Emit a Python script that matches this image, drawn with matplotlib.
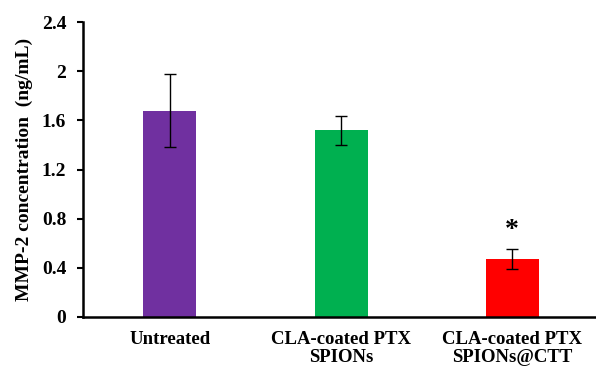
import matplotlib
matplotlib.use('Agg')
import matplotlib.pyplot as plt

categories = ['Untreated', 'CLA-coated PTX\nSPIONs', 'CLA-coated PTX\nSPIONs@CTT']
values = [1.68, 1.52, 0.47]
errors = [0.30, 0.12, 0.08]
colors = ['#7030A0', '#00B050', '#FF0000']
yticks = [0, 0.4, 0.8, 1.2, 1.6, 2.0, 2.4]
ytick_labels = ['0', '0.4', '0.8', '1.2', '1.6', '2', '2.4']

plt.rcParams['font.family'] = ['Liberation Serif', 'DejaVu Serif']
plt.rcParams['font.weight'] = 'bold'

fig = plt.figure(figsize=(5.96, 3.69), dpi=100)
ax = fig.add_axes([0.139, 0.141, 0.861, 0.799])

x = range(len(categories))
ax.bar(x, values, width=0.31, color=colors, zorder=2)
ax.errorbar(x, values, yerr=errors, fmt='none', ecolor='black',
            elinewidth=1.0, capsize=4, capthick=1.0, zorder=3)

# significance marker
ax.text(2, values[2] + errors[2] + 0.15, '*', ha='center', va='center',
        fontsize=20, fontweight='bold')

ax.set_xlim(-0.509, 2.49)
ax.set_ylim(0, 2.4)
ax.set_yticks(yticks)
ax.set_yticklabels(ytick_labels, fontsize=14, fontweight='bold')
ax.set_xticks(list(x))
ax.set_xticklabels(categories, fontsize=13.5, fontweight='bold', linespacing=1.08)
ax.tick_params(axis='x', length=0, pad=10)
ax.tick_params(axis='y', direction='out', length=4, width=1.5, pad=8)

ax.set_ylabel('MMP-2 concentration  (ng/mL)', fontsize=14, fontweight='bold',
              labelpad=6)

for s in ['top', 'right']:
    ax.spines[s].set_visible(False)
for s in ['left', 'bottom']:
    ax.spines[s].set_linewidth(1.8)

fig.savefig('out.png', dpi=100)
